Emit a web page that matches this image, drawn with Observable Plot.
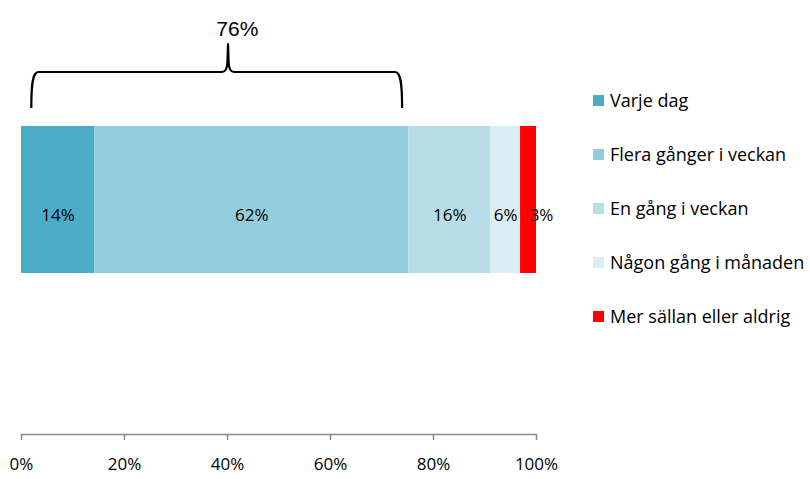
<!DOCTYPE html>
<html>
<head>
<meta charset="utf-8">
<script src="https://cdn.jsdelivr.net/npm/d3@7"></script>
<script src="https://cdn.jsdelivr.net/npm/@observablehq/plot@0.6"></script>
<style>
  html, body { margin: 0; padding: 0; background: #fff; }
  #wrap { position: relative; width: 810px; height: 479px; font-family: "Open Sans", sans-serif; }
  #legend { position: absolute; left: 593px; top: 73px; }
  .item { display: flex; align-items: center; height: 54px; font-size: 18px; color: #000; white-space: nowrap; }
  .sw { width: 11px; height: 11px; margin-right: 6px; flex: none; }
</style>
</head>
<body>
<div id="wrap"><div id="legend"></div></div>
<script>
const categories = ["Varje dag", "Flera gånger i veckan", "En gång i veckan", "Någon gång i månaden", "Mer sällan eller aldrig"];
const values = [14.2, 61.0, 15.9, 5.8, 3.1];
const labels = ["14%", "62%", "16%", "6%", "3%"];
const colors = ["#4BACC6", "#93CDDD", "#B7DEE8", "#DAEEF3", "#FF0000"];
const xTicks = [0, 20, 40, 60, 80, 100];
const braceRange = [2, 74];
const braceTip = [40.2];
const braceLabel = ["76%"];
const braceLabelX = [41.9];

const rows = categories.map((c, i) => ({category: c, value: values[i], label: labels[i], bar: "Andel"}));
const lastCat = categories[categories.length - 1];

function brace(index, scales) {
  const x = scales.x;
  const barTop = scales.y("Andel");
  const xL = x(braceRange[0]), xR = x(braceRange[1]), xM = x(braceTip[0]);
  const yTop = barTop - 54, yLeg = barTop - 18, yTip = barTop - 82;
  const d = `M${xL},${yLeg} C${xL},${yLeg - 22} ${xL + 1},${yTop} ${xL + 7},${yTop}`
    + ` L${xM - 6},${yTop} Q${xM - 1},${yTop} ${xM - 0.6},${yTop - 10} L${xM},${yTip}`
    + ` L${xM + 0.6},${yTop - 10} Q${xM + 1},${yTop} ${xM + 6},${yTop}`
    + ` L${xR - 7},${yTop} C${xR - 1},${yTop} ${xR},${yLeg - 22} ${xR},${yLeg}`;
  return d3.create("svg:path")
    .attr("d", d)
    .attr("fill", "none")
    .attr("stroke", "#000")
    .attr("stroke-width", 2.2)
    .attr("stroke-linejoin", "round")
    .node();
}

const chart = Plot.plot({
  width: 810,
  height: 479,
  marginLeft: 21,
  marginRight: 274,
  marginTop: 0,
  marginBottom: 45,
  style: {fontFamily: "'Open Sans', sans-serif", fontSize: "17px", color: "#000", background: "#fff"},
  x: {domain: [0, 100], axis: null, label: null},
  y: {domain: ["Andel"], range: [126, 273], padding: 0, axis: null},
  color: {domain: categories, range: colors},
  marks: [
    Plot.barX(rows, Plot.stackX({x: "value", y: "bar", fill: "category", order: null})),
    Plot.text(rows, Plot.stackX({x: "value", y: "bar", text: d => d.category === lastCat ? null : d.label, order: null, dy: 16, fill: "#000", fontSize: 17})),
    Plot.text(rows, Plot.stackX({x: "value", y: "bar", text: d => d.category === lastCat ? d.label : null, order: null, dy: 16, dx: 13, fill: "#000", fontSize: 17})),
    Plot.frame({anchor: "bottom", stroke: "#898989", strokeWidth: 1.5}),
    Plot.axisX({ticks: xTicks, tickFormat: d => d + "%", tickSize: 6, tickPadding: 17, stroke: "#898989", strokeWidth: 1.5, fill: "#000", fontSize: 17, label: null}),
    brace,
    Plot.text(braceLabel, {x: braceLabelX, text: d => d, frameAnchor: "top", dy: 21, fill: "#000", fontSize: 21, fontFamily: "'Liberation Sans', Arial, sans-serif"})
  ]
});
document.getElementById("wrap").prepend(chart);

const legend = d3.select("#legend");
categories.forEach((c, i) => {
  const it = legend.append("div").attr("class", "item");
  it.append("span").attr("class", "sw").style("background", colors[i]);
  it.append("span").text(c);
});
</script>
</body>
</html>
